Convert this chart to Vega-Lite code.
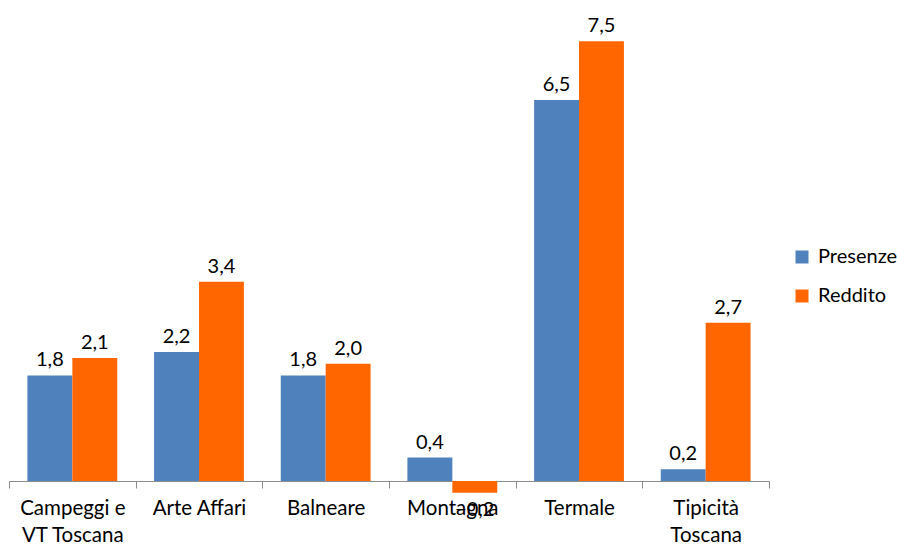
{
  "$schema": "https://vega.github.io/schema/vega-lite/v6.json",
  "width": 760,
  "height": 469,
  "padding": {"left": 8, "top": 12, "right": 0, "bottom": 0},
  "background": "white",
  "config": {
    "view": {"stroke": null},
    "font": "Lato",
    "locale": {"number": {"decimal": ",", "thousands": ".", "grouping": [3], "currency": ["€", ""]}}
  },
  "data": {
    "values": [
      {"categoria": "Campeggi e VT Toscana", "serie": "Presenze", "valore": 1.8},
      {"categoria": "Campeggi e VT Toscana", "serie": "Reddito", "valore": 2.1},
      {"categoria": "Arte Affari", "serie": "Presenze", "valore": 2.2},
      {"categoria": "Arte Affari", "serie": "Reddito", "valore": 3.4},
      {"categoria": "Balneare", "serie": "Presenze", "valore": 1.8},
      {"categoria": "Balneare", "serie": "Reddito", "valore": 2.0},
      {"categoria": "Montagna", "serie": "Presenze", "valore": 0.4},
      {"categoria": "Montagna", "serie": "Reddito", "valore": -0.2},
      {"categoria": "Termale", "serie": "Presenze", "valore": 6.5},
      {"categoria": "Termale", "serie": "Reddito", "valore": 7.5},
      {"categoria": "Tipicità Toscana", "serie": "Presenze", "valore": 0.2},
      {"categoria": "Tipicità Toscana", "serie": "Reddito", "valore": 2.7}
    ]
  },
  "encoding": {
    "x": {
      "field": "categoria",
      "type": "nominal",
      "sort": null,
      "scale": {"paddingInner": 0, "paddingOuter": 0},
      "axis": {
        "title": null,
        "labelAngle": 0,
        "labelFont": "Lato",
        "labelFontSize": 20.5,
        "labelColor": "#000000",
        "labelPadding": 10,
        "labelLineHeight": 27,
        "labelExpr": "datum.value == 'Campeggi e VT Toscana' ? ['Campeggi e', 'VT Toscana'] : datum.value == 'Tipicità Toscana' ? ['Tipicità', 'Toscana'] : datum.value",
        "domainColor": "#8c8c8c",
        "tickColor": "#8c8c8c",
        "tickSize": 7,
        "tickBand": "extent",
        "grid": false
      }
    },
    "xOffset": {
      "field": "serie",
      "type": "nominal",
      "sort": ["Presenze", "Reddito"],
      "scale": {"paddingInner": 0, "paddingOuter": 0.41}
    },
    "y": {
      "field": "valore",
      "type": "quantitative",
      "scale": {"domain": [0, 8], "nice": false, "zero": true},
      "axis": null
    }
  },
  "layer": [
    {
      "mark": {"type": "bar"},
      "encoding": {
        "color": {
          "field": "serie",
          "type": "nominal",
          "sort": ["Presenze", "Reddito"],
          "scale": {"domain": ["Presenze", "Reddito"], "range": ["#4F81BD", "#FF6600"]},
          "legend": {
            "title": null,
            "orient": "none",
            "legendX": 783,
            "legendY": 235,
            "symbolType": "square",
            "symbolSize": 169,
            "symbolStrokeWidth": 0,
            "labelFont": "Lato",
            "labelFontSize": 20,
            "labelColor": "#000000",
            "labelOffset": 6,
            "rowPadding": 19
          }
        }
      }
    },
    {
      "transform": [{"filter": "datum.valore >= 0"}],
      "mark": {"type": "text", "baseline": "bottom", "dy": -5, "fontSize": 20, "font": "Lato", "color": "#000000"},
      "encoding": {"text": {"field": "valore", "type": "quantitative", "format": ".1f"}}
    },
    {
      "transform": [{"filter": "datum.valore < 0"}],
      "mark": {"type": "text", "baseline": "top", "dy": 7, "fontSize": 20, "font": "Lato", "color": "#000000"},
      "encoding": {"text": {"field": "valore", "type": "quantitative", "format": ".1f"}}
    }
  ]
}
